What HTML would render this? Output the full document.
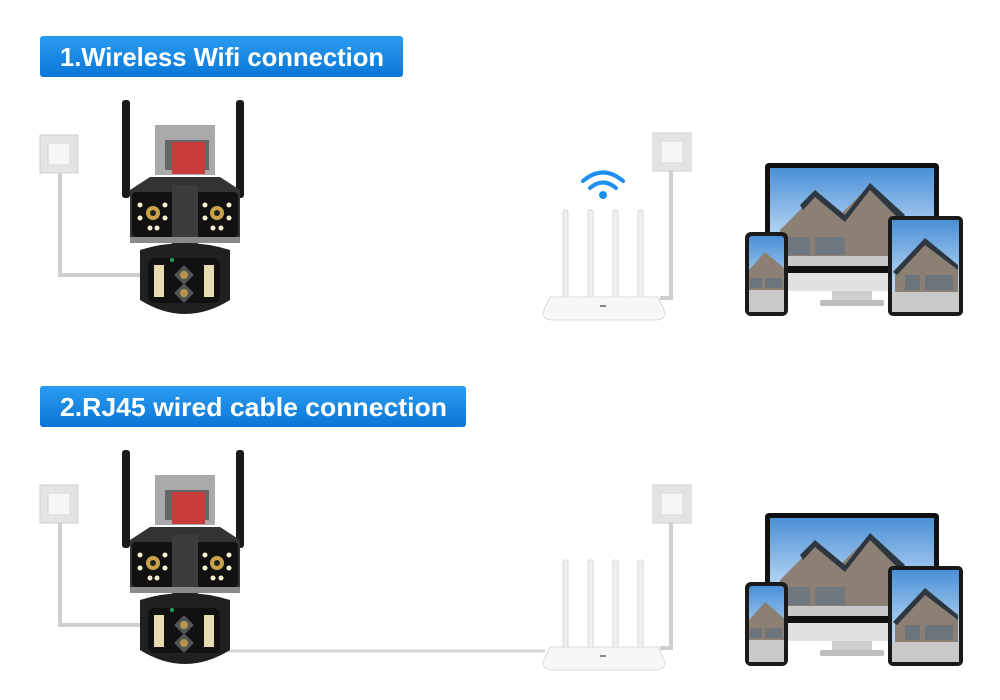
<!DOCTYPE html>
<html><head><meta charset="utf-8"><style>
html,body{margin:0;padding:0;background:#fff;}
svg{display:block}
text{font-family:"Liberation Sans",sans-serif;font-weight:bold;fill:#fff}
</style></head><body>
<svg width="1000" height="700" viewBox="0 0 1000 700" xmlns="http://www.w3.org/2000/svg">
<defs>
<linearGradient id="sky" x1="0" y1="0" x2="0" y2="1"><stop offset="0" stop-color="#4a90d6"/><stop offset="0.6" stop-color="#a9cdef"/><stop offset="1" stop-color="#cfe2f2"/></linearGradient>
<linearGradient id="lbl" x1="0" y1="0" x2="0" y2="1"><stop offset="0" stop-color="#2a9cf0"/><stop offset="1" stop-color="#0a76d6"/></linearGradient>
<g id="socket">
<rect x="0" y="0" width="38" height="38" fill="#e4e4e4" stroke="#cfcfcf"/>
<rect x="8" y="8" width="22" height="22" fill="#f6f6f6" stroke="#d8d8d8"/>
</g>
<g id="cam">
<rect x="122" y="100" width="8" height="98" rx="3" fill="#1a1a1a"/>
<rect x="236" y="100" width="8" height="98" rx="3" fill="#1a1a1a"/>
<rect x="155" y="125" width="60" height="50" fill="#aaa"/>
<rect x="165" y="140" width="44" height="30" fill="#666"/>
<rect x="172" y="142" width="33" height="32" fill="#c83c3c"/>
<path d="M130 190 L150 177 L220 177 L240 190 L240 240 L130 240Z" fill="#333"/>
<rect x="132" y="192" width="42" height="45" rx="4" fill="#111"/>
<rect x="196" y="192" width="42" height="45" rx="4" fill="#111"/>
<circle cx="153" cy="213" r="7" fill="#c9a24a"/><circle cx="153" cy="213" r="3" fill="#222"/>
<circle cx="217" cy="213" r="7" fill="#c9a24a"/><circle cx="217" cy="213" r="3" fill="#222"/>
<g fill="#f4f0d0"><circle cx="140" cy="205" r="2.5"/><circle cx="140" cy="218" r="2.5"/><circle cx="165" cy="205" r="2.5"/><circle cx="165" cy="218" r="2.5"/><circle cx="150" cy="228" r="2.5"/><circle cx="157" cy="228" r="2.5"/>
<circle cx="205" cy="205" r="2.5"/><circle cx="205" cy="218" r="2.5"/><circle cx="229" cy="205" r="2.5"/><circle cx="229" cy="218" r="2.5"/><circle cx="213" cy="228" r="2.5"/><circle cx="221" cy="228" r="2.5"/></g>
<rect x="172" y="185" width="26" height="60" fill="#3c3c3c"/>
<rect x="130" y="237" width="110" height="6" fill="#8a8a8a"/>
<path d="M140 250 Q185 236 230 250 L230 300 Q185 328 140 300Z" fill="#202020"/>
<rect x="148" y="258" width="72" height="45" rx="6" fill="#111"/>
<rect x="154" y="265" width="10" height="32" fill="#e8dcb0"/>
<rect x="204" y="265" width="10" height="32" fill="#e8dcb0"/>
<rect x="177" y="268" width="14" height="14" transform="rotate(45 184 275)" fill="#555"/>
<rect x="177" y="286" width="14" height="14" transform="rotate(45 184 293)" fill="#555"/>
<circle cx="184" cy="275" r="4" fill="#b8954a"/><circle cx="184" cy="293" r="4" fill="#b8954a"/>
<circle cx="172" cy="260" r="2" fill="#1da55a"/>
</g>
<g id="router">
<g fill="#f0f0f0" stroke="#d8d8d8"><rect x="563" y="210" width="5" height="88" rx="2"/><rect x="588" y="210" width="5" height="88" rx="2"/><rect x="613" y="210" width="5" height="88" rx="2"/><rect x="638" y="210" width="5" height="88" rx="2"/></g>
<path d="M550 297 L658 297 L665 312 Q665 320 655 320 L553 320 Q543 320 543 312Z" fill="#f7f7f7" stroke="#dcdcdc"/>
<rect x="600" y="305" width="6" height="2" fill="#888"/>
</g>
<g id="devices">
<rect x="765" y="163" width="174" height="110" rx="4" fill="#111"/>
<rect x="770" y="168" width="164" height="98" fill="url(#sky)"/>
<path d="M780 230 L815 195 L840 215 L870 185 L900 220 L930 225 L930 258 L780 258Z" fill="#8c8075"/>
<path d="M800 205 L815 190 L845 215 L870 183 L905 215 L900 220 L870 190 L845 222 L815 197 L803 210Z" fill="#2e3640"/>
<rect x="788" y="237" width="22" height="18" fill="#707780"/><rect x="815" y="237" width="30" height="18" fill="#707780"/>
<rect x="770" y="256" width="164" height="10" fill="#c8c8c8"/>
<rect x="765" y="273" width="174" height="18" fill="#e2e2e2"/>
<rect x="832" y="291" width="40" height="10" fill="#cfcfcf"/>
<rect x="820" y="300" width="64" height="6" rx="2" fill="#bdbdbd"/>
<rect x="888" y="216" width="75" height="100" rx="5" fill="#1a1a1a"/>
<rect x="892" y="220" width="67" height="92" fill="url(#sky)"/>
<path d="M895 270 L925 240 L958 265 L958 292 L895 292Z" fill="#8c8075"/>
<path d="M893 272 L925 238 L958 265 L958 270 L925 245 L897 275Z" fill="#2e3640"/>
<rect x="905" y="275" width="15" height="15" fill="#6d747c"/><rect x="925" y="275" width="28" height="15" fill="#6d747c"/>
<rect x="892" y="292" width="67" height="20" fill="#c9c9c9"/>
<rect x="745" y="232" width="43" height="84" rx="6" fill="#1a1a1a"/>
<rect x="749" y="236" width="35" height="76" rx="3" fill="url(#sky)"/>
<path d="M749 270 L765 252 L784 268 L784 290 L749 290Z" fill="#8c8075"/>
<rect x="750" y="278" width="12" height="10" fill="#6d747c"/><rect x="765" y="278" width="17" height="10" fill="#6d747c"/>
<rect x="749" y="290" width="35" height="22" fill="#c9c9c9"/>
</g>
</defs>

<rect x="40" y="36" width="363" height="41" rx="3" fill="url(#lbl)"/>
<text x="60" y="66" font-size="26" textLength="324" lengthAdjust="spacingAndGlyphs">1.Wireless Wifi connection</text>
<use href="#socket" x="40" y="135"/>
<path d="M60 173 L60 275 L140 275" fill="none" stroke="#cfcfcf" stroke-width="4"/>
<use href="#cam"/>
<use href="#router"/>
<use href="#socket" x="653" y="133"/>
<path d="M671 171 L671 298 L660 298" fill="none" stroke="#cfcfcf" stroke-width="4"/>
<g fill="none" stroke="#1e8ef0" stroke-width="4" stroke-linecap="round">
<path d="M583 181 Q603 164 623 181"/><path d="M590 188 Q603 177 616 188"/></g>
<circle cx="603" cy="195" r="4" fill="#1e8ef0"/>
<use href="#devices"/>

<rect x="40" y="386" width="426" height="41" rx="3" fill="url(#lbl)"/>
<text x="60" y="416" font-size="26" textLength="387" lengthAdjust="spacingAndGlyphs">2.RJ45 wired cable connection</text>
<use href="#socket" x="40" y="485"/>
<path d="M60 523 L60 625 L140 625" fill="none" stroke="#cfcfcf" stroke-width="4"/>
<path d="M225 651 L545 651" fill="none" stroke="#d4d4d4" stroke-width="3"/>
<use href="#cam" y="350"/>
<use href="#router" y="350"/>
<use href="#socket" x="653" y="485"/>
<path d="M671 523 L671 648 L660 648" fill="none" stroke="#cfcfcf" stroke-width="4"/>
<use href="#devices" y="350"/>
</svg>
</body></html>
